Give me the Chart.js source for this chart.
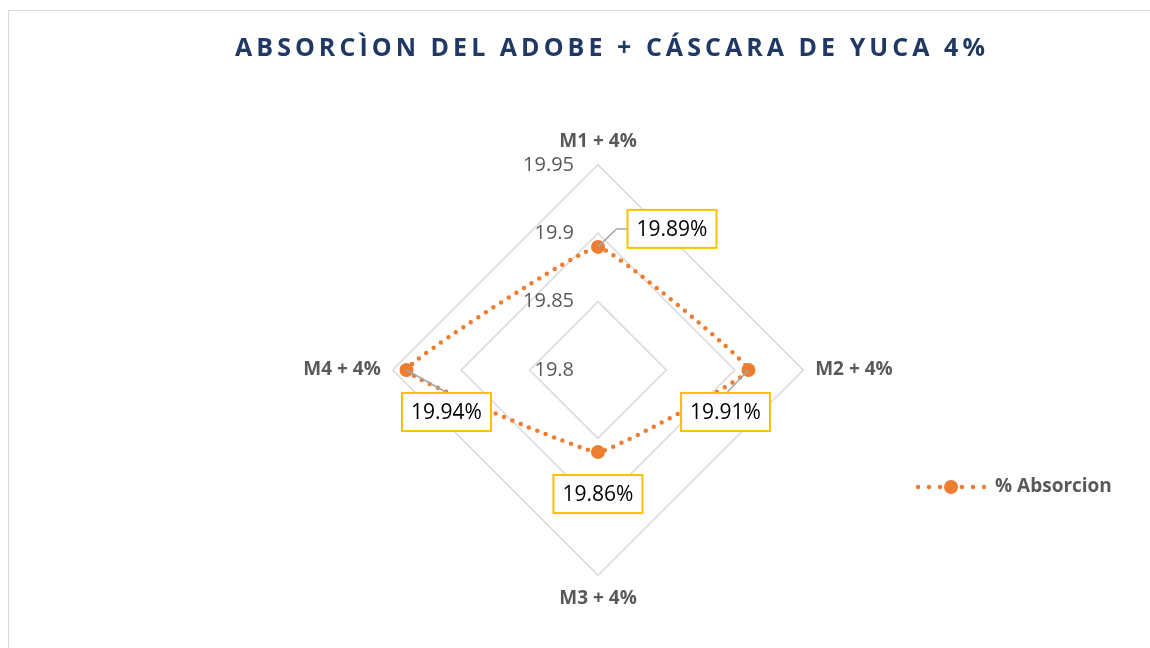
<!DOCTYPE html>
<html>
<head>
<meta charset="utf-8">
<script src="https://cdn.jsdelivr.net/npm/chart.js@4.4.0/dist/chart.umd.min.js"></script>
<style>
    html, body { margin: 0; padding: 0; background: #fff; overflow: hidden; }
    #frame { position: absolute; left: 8px; top: 10px; width: 1160px; height: 660px; border: 1px solid #d9d9d9; }
    canvas { position: absolute; left: 0; top: 0; }
</style>
</head>
<body>
<div id="frame"></div>
<canvas id="radarChart" width="1150" height="648"></canvas>
<script>
// DATA

var categories = ['M1 + 4%', 'M2 + 4%', 'M3 + 4%', 'M4 + 4%'];
var absorcion = [19.89, 19.91, 19.86, 19.94];
var dataLabels = ['19.89%', '19.91%', '19.86%', '19.94%'];
var tickValues = [19.8, 19.85, 19.9, 19.95];
var seriesName = '% Absorcion';
var chartTitle = 'ABSORCÌON DEL ADOBE + CÁSCARA DE YUCA 4%';

var orange = '#ED7D31';
var gray = '#595959';

// label box offsets from each point (box centre), and leader style
var labelOffsets = [[74, -18], [-23, 42], [0, 42], [40, 42]];
var leaderType = ['side', 'top', 'none', 'top'];

// DRAWING EXTRAS

var decor = {
    id: 'decor',
    beforeDatasetsDraw: function (chart) {
        var ctx = chart.ctx;
        var scale = chart.scales.r;
        ctx.save();
        ctx.font = '20px "Open Sans"';
        ctx.fillStyle = gray;
        ctx.textAlign = 'right';
        ctx.textBaseline = 'middle';
        tickValues.forEach(function (v) {
            var d = scale.getDistanceFromCenterForValue(v);
            ctx.fillText(String(v), scale.xCenter - 24, scale.yCenter - d);
        });
        ctx.restore();
    },
    afterDatasetsDraw: function (chart) {
        var ctx = chart.ctx;
        var pts = chart.getDatasetMeta(0).data;
        var bw = 89, bh = 38;
        ctx.save();

        // leader lines
        ctx.strokeStyle = '#A6A6A6';
        ctx.lineWidth = 1.5;
        pts.forEach(function (p, i) {
            var cx = p.x + labelOffsets[i][0];
            var cy = p.y + labelOffsets[i][1];
            ctx.beginPath();
            if (leaderType[i] === 'side') {
                ctx.moveTo(p.x, p.y);
                ctx.lineTo(cx - bw / 2 - 11, cy);
                ctx.lineTo(cx - bw / 2, cy);
                ctx.stroke();
            } else if (leaderType[i] === 'top') {
                ctx.moveTo(p.x, p.y);
                ctx.lineTo(cx + 1, cy - bh / 2);
                ctx.stroke();
            }
        });

        // label boxes
        ctx.font = '21px "Open Sans"';
        ctx.textAlign = 'center';
        ctx.textBaseline = 'middle';
        pts.forEach(function (p, i) {
            var cx = p.x + labelOffsets[i][0];
            var cy = p.y + labelOffsets[i][1];
            ctx.fillStyle = '#fff';
            ctx.fillRect(cx - bw / 2, cy - bh / 2, bw, bh);
            ctx.strokeStyle = '#FFC000';
            ctx.lineWidth = 2;
            ctx.strokeRect(cx - bw / 2, cy - bh / 2, bw, bh);
            ctx.fillStyle = '#000';
            ctx.fillText(dataLabels[i], cx, cy + 1);
        });

        // title
        ctx.font = 'bold 25px "Open Sans"';
        ctx.fillStyle = '#1F3864';
        ctx.letterSpacing = '0px';
        var w0 = ctx.measureText(chartTitle).width;
        var sp = (750 - w0) / (chartTitle.length - 1);
        ctx.letterSpacing = sp.toFixed(2) + 'px';
        ctx.textAlign = 'left';
        ctx.fillText(chartTitle, 235, 49);
        ctx.letterSpacing = '0px';

        // legend
        var ly = 487;
        ctx.strokeStyle = orange;
        ctx.lineWidth = 4.5;
        ctx.lineCap = 'round';
        ctx.setLineDash([0, 11]);
        ctx.beginPath();
        ctx.moveTo(918, ly);
        ctx.lineTo(985, ly);
        ctx.stroke();
        ctx.setLineDash([]);
        ctx.fillStyle = orange;
        ctx.beginPath();
        ctx.arc(951, ly, 7, 0, Math.PI * 2);
        ctx.fill();
        ctx.font = 'bold 19px "Open Sans"';
        ctx.fillStyle = gray;
        ctx.textAlign = 'left';
        ctx.fillText(seriesName, 995, ly);

        ctx.restore();
    }
};

// CHART

var ctx = document.getElementById('radarChart');

var radarChart = new Chart(ctx, {
    type: 'radar',
    data: {
        labels: categories,
        datasets: [{
            label: seriesName,
            data: absorcion,
            fill: false,
            borderColor: orange,
            borderWidth: 4.5,
            borderDash: [0, 9],
            borderCapStyle: 'round',
            tension: 0.08,
            pointRadius: 7,
            pointBackgroundColor: orange,
            pointBorderColor: orange,
            pointBorderWidth: 0
        }]
    },
    options: {
        responsive: false,
        animation: false,
        layout: {
            padding: { top: 130, bottom: 38, left: 270, right: 224 }
        },
        plugins: {
            legend: { display: false },
            title: { display: false },
            tooltip: { enabled: false }
        },
        scales: {
            r: {
                min: 19.8,
                max: 19.95,
                ticks: { display: false, stepSize: 0.05 },
                grid: { color: '#D9D9D9', lineWidth: 1.5 },
                angleLines: { display: false },
                pointLabels: {
                    padding: 12,
                    color: gray,
                    font: { family: 'Open Sans', size: 19, weight: 'bold' }
                }
            }
        }
    },
    plugins: [decor]
});
</script>
</body>
</html>
